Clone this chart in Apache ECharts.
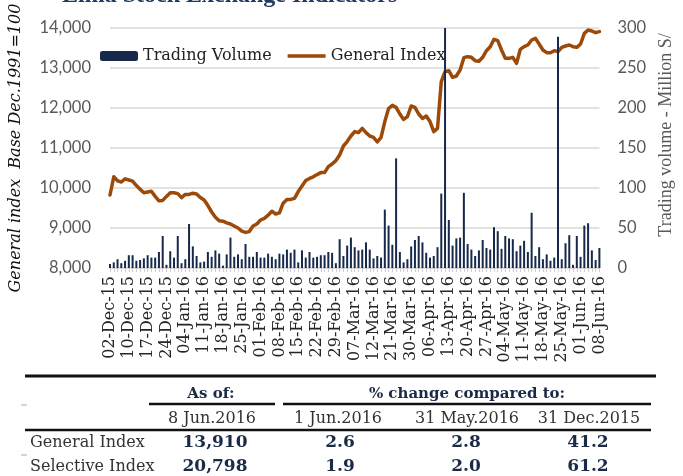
<!DOCTYPE html>
<html>
<head>
<meta charset="utf-8">
<script src="https://cdn.jsdelivr.net/npm/echarts@6/dist/echarts.min.js"></script>
<style>
  html, body { margin: 0; padding: 0; background: #fff; }
  #chart { width: 683px; height: 476px; }
</style>
</head>
<body>
<div id="chart"></div>
<script>
// weekly tick labels (every 5th trading day)
const tickLabels = ['02-Dec-15', '10-Dec-15', '17-Dec-15', '24-Dec-15', '04-Jan-16', '11-Jan-16', '18-Jan-16',
  '25-Jan-16', '01-Feb-16', '08-Feb-16', '15-Feb-16', '22-Feb-16', '29-Feb-16', '07-Mar-16', '12-Mar-16',
  '21-Mar-16', '30-Mar-16', '06-Apr-16', '13-Apr-16', '20-Apr-16', '27-Apr-16', '04-May-16', '11-May-16',
  '18-May-16', '25-May-16', '01-Jun-16', '08-Jun-16']

const generalIndex = [
  9825, 10280, 10180, 10150, 10230, 10200, 10170, 10060, 9970, 9880,
  9900, 9920, 9790, 9680, 9690, 9790, 9880, 9880, 9860, 9760,
  9840, 9840, 9870, 9850, 9760, 9700, 9560, 9400, 9270, 9180,
  9170, 9130, 9100, 9050, 9000, 8920, 8890, 8910, 9050, 9100,
  9200, 9240, 9320, 9420, 9350, 9380, 9620, 9715, 9715, 9740,
  9910, 10050, 10185, 10240, 10280, 10335, 10385, 10385, 10535, 10600,
  10685, 10825, 11050, 11160, 11300, 11410, 11385, 11490, 11385, 11300,
  11265, 11150, 11265, 11660, 11985, 12065, 12015, 11850, 11715, 11785,
  12050, 12015, 11850, 11740, 11800, 11660, 11410, 11490, 12658, 12908,
  12933, 12767, 12800, 12950, 13258, 13283, 13267, 13183, 13167, 13267,
  13433, 13533, 13717, 13683, 13450, 13242, 13242, 13267, 13117, 13467,
  13533, 13575, 13700, 13742, 13600, 13450, 13383, 13383, 13433, 13408,
  13517, 13550, 13575, 13533, 13517, 13600, 13867, 13950, 13925, 13883,
  13910
]

const tradingVolume = [
  5, 7, 11, 6, 9, 16, 16, 9, 10, 12,
  16, 13, 13, 20, 40, 4, 21, 13, 40, 6,
  11, 55, 27, 15, 7, 8, 20, 14, 22, 18,
  3, 17, 38, 14, 17, 11, 30, 14, 14, 20,
  13, 13, 18, 14, 11, 18, 17, 23, 19, 23,
  7, 22, 13, 20, 13, 14, 16, 16, 20, 19,
  6, 36, 15, 28, 38, 26, 22, 23, 32, 23,
  12, 15, 13, 73, 53, 29, 137, 20, 7, 11,
  27, 35, 40, 32, 19, 13, 15, 26, 93, 330,
  60, 28, 37, 38, 94, 30, 23, 15, 22, 35,
  25, 23, 51, 46, 24, 40, 37, 36, 21, 28,
  34, 20, 69, 15, 26, 11, 17, 9, 13, 289,
  11, 31, 41, 4, 40, 14, 53, 56, 22, 10,
  25
]

// table under the chart
const tableDates = ['8 Jun.2016', '1 Jun.2016', '31 May.2016', '31 Dec.2015']
const tableRowNames = ['General Index', 'Selective Index']
const levelAsOf = ['13,910', '20,798']
const change1Jun = ['2.6', '1.9']
const change31May = ['2.8', '2.0']
const change31Dec = ['41.2', '61.2']

const categories = generalIndex.map((v, i) => (i % 5 === 0 ? tickLabels[i / 5] : ''))

const serif = '"DejaVu Serif"'
const navy = '#1b2a47'

function txt (x, y, text, font, fill, align, valign) {
  return {
    type: 'text',
    x: x,
    y: y,
    style: {
      text: text,
      font: font,
      fill: fill,
      align: align,
      verticalAlign: valign || 'middle',
      textAlign: align,
      textVerticalAlign: valign || 'middle'
    }
  }
}

function hline (x1, x2, y, w, color) {
  return {
    type: 'line',
    shape: { x1: x1, y1: y, x2: x2, y2: y },
    style: { stroke: color, lineWidth: w }
  }
}

const colX = [212, 338, 467, 589]
const rowY = [443, 467]
const tableGraphics = [
  // page title, cut off by the top edge
  txt(62, 8, 'Lima Stock Exchange Indicators', 'bold 24px "Liberation Serif"', '#1f3864', 'left', 'bottom'),
  hline(25, 656, 376, 3, '#111'),
  txt(211, 394, 'As of:', 'bold 15px ' + serif, navy, 'center'),
  txt(467, 394, '% change compared to:', 'bold 15px ' + serif, navy, 'center'),
  hline(149, 275, 404, 2.5, '#111'),
  hline(283, 651, 404, 2.5, '#111'),
  hline(25, 651, 430, 2.5, '#111'),
  hline(21, 27, 405, 1.5, '#c8c8c8'),
  hline(21, 27, 455, 1.5, '#c8c8c8')
]
tableDates.forEach((d, i) => {
  tableGraphics.push(txt(colX[i], 419, d, '16px ' + serif, '#333', 'center'))
})
tableRowNames.forEach((name, r) => {
  const y = rowY[r]
  tableGraphics.push(txt(30, y, name, '16px ' + serif, '#333', 'left'))
  tableGraphics.push(txt(215, y, levelAsOf[r], 'bold 17px ' + serif, navy, 'center'))
  tableGraphics.push(txt(340, y, change1Jun[r], 'bold 17px ' + serif, navy, 'center'))
  tableGraphics.push(txt(466, y, change31May[r], 'bold 17px ' + serif, navy, 'center'))
  tableGraphics.push(txt(588, y, change31Dec[r], 'bold 17px ' + serif, navy, 'center'))
})

const chart = echarts.init(document.getElementById('chart'))
const option = {
  animation: false,
  legend: {
    data: [
      { name: 'Trading Volume' },
      { name: 'General Index', icon: 'path://M0,0 L38,0 L38,3.5 L0,3.5 Z' }
    ],
    left: 95,
    top: 43,
    itemWidth: 38,
    itemHeight: 10,
    itemGap: 16,
    textStyle: {
      fontFamily: 'DejaVu Serif',
      fontSize: 16,
      color: '#222'
    }
  },
  grid: {
    left: 106,
    right: 68,
    top: 28,
    bottom: 208
  },
  xAxis: {
    type: 'category',
    data: categories,
    boundaryGap: false,
    axisLine: {
      lineStyle: { color: '#d9d9d9', width: 1.5 }
    },
    axisTick: {
      interval: 0,
      length: 4,
      lineStyle: { color: '#d0d0d0' }
    },
    axisLabel: {
      interval: 0,
      rotate: 90,
      margin: 8,
      fontFamily: 'DejaVu Serif',
      fontSize: 16,
      color: '#262626'
    }
  },
  yAxis: [
    {
      type: 'value',
      min: 8000,
      max: 14000,
      interval: 1000,
      name: 'General index  Base Dec.1991=100',
      nameLocation: 'middle',
      nameGap: 86,
      nameRotate: 90,
      nameTextStyle: {
        fontFamily: 'DejaVu Serif',
        fontStyle: 'italic',
        fontSize: 16,
        color: '#111'
      },
      axisLine: { show: false },
      axisTick: { show: false },
      axisLabel: {
        margin: 19,
        fontFamily: 'Lato',
        fontSize: 16.5,
        color: '#595959',
        formatter: v => v.toLocaleString('en-US')
      },
      splitLine: {
        lineStyle: { color: '#d9d9d9', width: 1.5 }
      }
    },
    {
      type: 'value',
      min: 0,
      max: 300,
      interval: 50,
      name: 'Trading volume - Million S/',
      nameLocation: 'middle',
      nameGap: 56,
      nameRotate: 90,
      nameTextStyle: {
        fontFamily: 'Liberation Serif',
        fontSize: 18,
        color: '#595959',
        padding: [0, 0, 0, 26]
      },
      axisLine: { show: false },
      axisTick: { show: false },
      axisLabel: {
        margin: 18,
        fontFamily: 'Lato',
        fontSize: 16.5,
        color: '#595959'
      },
      splitLine: { show: false }
    }
  ],
  series: [
    {
      name: 'General Index',
      type: 'line',
      data: generalIndex,
      yAxisIndex: 0,
      symbol: 'none',
      z: 2,
      lineStyle: {
        color: '#9c4a0a',
        width: 3.5,
        join: 'round',
        cap: 'round'
      },
      itemStyle: { color: '#9c4a0a' }
    },
    {
      name: 'Trading Volume',
      type: 'bar',
      data: tradingVolume,
      yAxisIndex: 1,
      barWidth: 2,
      z: 3,
      itemStyle: { color: '#17294a' }
    }
  ],
  graphic: tableGraphics
}
chart.setOption(option)
</script>
</body>
</html>
